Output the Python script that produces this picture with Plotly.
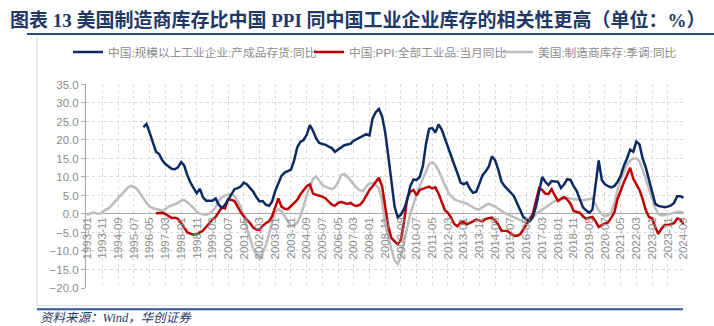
import plotly.graph_objects as go
import pandas as pd

title_text = "图表 13 美国制造商库存比中国 PPI 同中国工业企业库存的相关性更高（单位：%）"
source_text = "资料来源：Wind，华创证券"

name_blue = "中国:规模以上工业企业:产成品存货:同比"
name_red = "中国:PPI:全部工业品:当月同比"
name_gray = "美国:制造商库存:季调:同比"

# bimonthly readings (every 2 months from start)
gray_start = "1993-01-01"
gray_vals = [
    -0.2, 0.2, 0.4, 0.2, 0.0, 0.5, 1.2, 1.5, 2.5, 3.3,
    4.3, 5.3, 6.2, 7.1, 7.6, 7.3, 6.7, 5.5, 4.2, 3.0,
    2.0, 1.6, 1.3, 1.2, 0.8, 1.3, 2.0, 2.3, 2.6, 3.0,
    3.6, 3.8, 3.2, 2.5, 1.6, 0.6, 0.1, -0.1, -0.2, 0.1,
    0.8, 1.8, 3.5, 4.5, 5.0, 5.2, 5.4, 4.8, 3.5, 2.0,
    -1.0, -4.0, -7.0, -9.5, -11.0, -12.2, -10.5, -8.5, -5.5, -2.0,
    0.6, 1.2, 0.8, -0.5, -2.0, -3.3, -3.0, -2.4, -0.5, 2.0,
    5.2, 7.5, 9.5, 10.2, 9.0, 7.8, 7.3, 7.0, 6.7, 7.2,
    8.5, 10.5, 10.8, 10.0, 9.0, 7.8, 7.0, 6.4, 6.3, 7.5,
    8.3, 8.3, 7.8, 7.0, 3.5, -3.0, -6.5, -9.5, -12.5, -13.5,
    -11.5, -7.5, -3.7, 0.0, 2.5, 5.5, 7.5, 9.3, 11.5, 13.5,
    14.0, 13.3, 11.8, 9.8, 7.8, 6.0, 4.8, 4.0, 3.6, 3.4,
    3.2, 2.8, 2.3, 1.7, 1.3, 1.3, 1.9, 2.4, 2.8, 2.5,
    2.0, 1.4, 0.8, 0.3, -0.1, -0.5, -1.0, -1.4, -1.7, -2.0,
    -2.4, -2.0, -1.0, 0.0, 0.6, 1.2, 1.8, 2.5, 3.0, 3.5,
    3.7, 3.9, 4.2, 4.4, 4.2, 4.0, 3.9, 3.8, 3.7, 3.8,
    4.0, 4.2, 2.5, 1.0, 0.0, -0.6, -0.4, 0.5, 3.0, 6.5,
    9.2, 11.5, 13.3, 14.5, 15.0, 15.0, 14.2, 12.0, 9.5, 6.8,
    4.0, 1.6, 0.0, -0.4, -0.3, -0.2, 0.1, 0.3, 0.6, 0.6,
    0.3,
]

blue_start = "1996-01-01"
blue_vals = [
    23.5, 24.3, 22.0, 19.5, 16.8, 16.2, 14.5, 13.5, 12.8, 12.2,
    12.1, 12.6, 14.0, 13.1, 10.5, 8.5, 7.0, 5.6, 6.8, 4.5,
    3.6, 3.5, 3.6, 4.2, 2.5, 1.6, 2.5, 3.8, 5.4, 6.7,
    7.0, 7.4, 8.5, 8.0, 7.0, 6.0, 4.5, 3.4, 3.5, 2.5,
    2.2, 3.4, 6.3, 8.5, 10.3, 11.2, 11.6, 12.0, 14.5, 18.0,
    19.5, 20.0, 21.4, 24.0, 22.5, 20.5, 19.2, 19.0, 18.7, 18.2,
    17.8, 16.8, 17.4, 18.0, 18.6, 18.8, 19.0, 19.8, 20.2, 20.6,
    21.2, 21.6, 21.2, 25.8, 27.5, 28.4, 26.4, 22.0, 15.5, 8.0,
    2.0, -0.9, -0.2, 1.4, 3.8, 7.5, 9.3, 9.2, 10.0, 13.0,
    19.0, 23.0, 23.2, 22.0, 24.2, 22.8, 20.3, 18.0, 15.5, 13.3,
    11.0, 8.5, 8.0, 8.5, 6.8, 5.7, 6.0, 8.0, 10.5, 11.5,
    12.8, 15.6, 14.5, 12.0, 8.8, 7.6, 6.8, 5.8, 4.8, 3.0,
    0.8, -0.8, -1.5, -2.0, -0.8, 2.0, 6.0, 10.0, 8.7, 7.8,
    8.9, 8.7, 8.7, 7.0, 8.0, 9.4, 9.2, 7.5, 6.2, 4.0,
    1.8, 1.0, 0.3, 1.2, 7.5, 14.5, 9.2, 8.0, 7.5, 7.2,
    7.6, 8.6, 10.3, 13.0, 15.0, 17.4, 16.8, 19.6, 18.8, 15.0,
    12.5, 9.0, 5.8, 2.8, 2.2, 2.0, 1.8, 2.0, 2.3, 3.0,
    4.8, 4.8, 4.4,
]

red_start = "1996-09-01"
red_vals = [
    0.2, 0.3, 0.3, 0.0, -0.5, -1.1, -1.0, -1.3, -2.4, -3.8,
    -5.0, -5.3, -5.6, -5.5, -5.0, -4.5, -3.5, -2.5, -1.5, -0.8,
    0.5, 1.8, 1.5, 4.0, 3.8, 3.5, 2.0, 0.5, -0.6, -1.5,
    -2.5, -3.7, -4.2, -4.3, -3.2, -2.5, -2.0, -0.6, 2.0, 4.2,
    2.0, 1.4, 1.3, 2.2, 3.0, 3.8, 5.3, 6.5, 7.5, 8.0,
    5.5, 5.2, 5.0, 4.7, 4.2, 3.4, 2.5, 2.2, 3.0, 3.2,
    2.9, 2.7, 3.0, 2.4, 2.2, 2.5, 3.5, 5.0, 6.5, 7.5,
    8.8, 9.8, 7.5, 2.0, -3.5, -6.5, -7.5, -8.2, -7.0, -2.0,
    4.3, 6.0, 6.5, 5.0, 6.5, 6.8, 7.0, 7.4, 6.9, 7.2,
    5.5, 3.5, 1.0, 0.3, -1.0, -2.7, -3.3, -2.3, -2.2, -2.8,
    -2.5, -2.0, -1.5, -1.8, -2.0, -1.3, -1.1, -1.0, -1.8, -2.8,
    -4.5, -4.6, -4.6, -5.3, -5.9, -5.9, -5.5, -4.2, -2.8, -1.5,
    0.0, 3.5, 7.0, 6.5, 5.5, 5.4, 6.7, 5.0, 3.5, 4.1,
    4.6, 3.9, 2.8, 0.8, 0.5, 0.3, -0.6, -1.3, -1.0, -0.8,
    -2.0, -3.5, -3.0, -2.5, -2.2, -1.0, 0.5, 4.0, 6.5, 8.5,
    10.5, 12.5, 9.5, 7.8, 6.5, 4.0, 1.0, -0.8, -1.2, -3.5,
    -5.4, -4.0, -3.0, -3.0, -2.7, -2.5, -1.2, -1.5, -2.8,
]

y_ticks = [35, 30, 25, 20, 15, 10, 5, 0, -5, -10, -15, -20]
x_tick_dates = pd.date_range("1993-01-01", "2024-09-01", freq="10MS")
x_tick_text = [d.strftime("%Y-%m") for d in x_tick_dates]

def dates(start, n):
    return pd.date_range(start, periods=n, freq="2MS")

W_FIG, H_FIG = 714, 326
L, R, T, B = 86, 30, 82, 38
PW = W_FIG - L - R
PH = H_FIG - T - B

def fx(px):
    return (px - L) / PW

def fy(py):
    return (T + PH - py) / PH

BLUE = "#0B2A63"
RED = "#C00000"
GRAY = "#BDBDBD"
TXT = "#8C8C8C"
SANS = "Liberation Sans, Noto Sans CJK SC, sans-serif"

fig = go.Figure()
fig.add_trace(go.Scatter(x=dates(gray_start, len(gray_vals)), y=gray_vals, mode="lines",
                         name=name_gray, line=dict(color=GRAY, width=2.5), legend="legend3"))
fig.add_trace(go.Scatter(x=dates(red_start, len(red_vals)), y=red_vals, mode="lines",
                         name=name_red, line=dict(color=RED, width=2.5), legend="legend2"))
fig.add_trace(go.Scatter(x=dates(blue_start, len(blue_vals)), y=blue_vals, mode="lines",
                         name=name_blue, line=dict(color=BLUE, width=2.5), legend="legend"))

def leg(px):
    return dict(x=px / W_FIG, y=1 - 52 / H_FIG, xref="container", yref="container",
                xanchor="left", yanchor="middle", orientation="h",
                font=dict(family=SANS, size=11.7, color=TXT),
                bgcolor="rgba(0,0,0,0)", borderwidth=0, tracegroupgap=0)

fig.update_layout(
    width=W_FIG, height=H_FIG,
    margin=dict(l=L, r=R, t=T, b=B),
    paper_bgcolor="white", plot_bgcolor="white",
    font=dict(family=SANS, size=11, color=TXT),
    showlegend=True,
    legend=leg(68), legend2=leg(309), legend3=leg(498),
    xaxis=dict(
        type="date",
        range=["1992-12-14", "2024-09-10"],
        tickvals=list(x_tick_dates), ticktext=x_tick_text,
        tickangle=-90, tickfont=dict(family=SANS, size=11.5, color=TXT),
        showgrid=True, gridcolor="#D9D9D9", griddash="dot", gridwidth=1,
        showline=False, zeroline=False, ticks="",
        anchor="free", position=20 / 55,
    ),
    yaxis=dict(
        range=[-20, 35], tickvals=y_ticks, tickformat=".1f",
        tickfont=dict(family=SANS, size=11.5, color=TXT),
        showgrid=True, gridcolor="#D9D9D9", griddash="dot", gridwidth=1,
        zeroline=True, zerolinecolor="#A6A6A6", zerolinewidth=1,
        showline=True, linecolor="#A6A6A6", linewidth=1,
        ticks="outside", ticklen=4, tickcolor="#A6A6A6",
    ),
)

shapes = [
    # title underline
    dict(type="line", xref="paper", yref="paper", x0=fx(27), x1=fx(714), y0=fy(31), y1=fy(31),
         line=dict(color="#1F4E79", width=2)),
    # chart frame left and bottom
    dict(type="line", xref="paper", yref="paper", x0=fx(37), x1=fx(37), y0=fy(33), y1=fy(306),
         line=dict(color="#D9D9D9", width=1)),
    dict(type="line", xref="paper", yref="paper", x0=fx(37), x1=fx(683), y0=fy(306), y1=fy(306),
         line=dict(color="#D9D9D9", width=1)),
    dict(type="line", xref="paper", yref="paper", x0=fx(37), x1=fx(683), y0=fy(309.5), y1=fy(309.5),
         line=dict(color="#2F5597", width=2)),
]
fig.update_layout(shapes=shapes)

fig.add_annotation(text="<b>" + title_text + "</b>", xref="paper", yref="paper",
                   x=fx(8), y=fy(17), xanchor="left", yanchor="middle", showarrow=False,
                   font=dict(family="Liberation Serif, Noto Sans CJK SC, serif", size=19, color="#1F3864"))
fig.add_annotation(text="<i>" + source_text + "</i>", xref="paper", yref="paper",
                   x=fx(38), y=fy(318.5), xanchor="left", yanchor="middle", showarrow=False,
                   font=dict(family="Liberation Serif, Noto Sans CJK SC, serif", size=12.5, color="#1F3864"))

fig.write_html("out.html")
